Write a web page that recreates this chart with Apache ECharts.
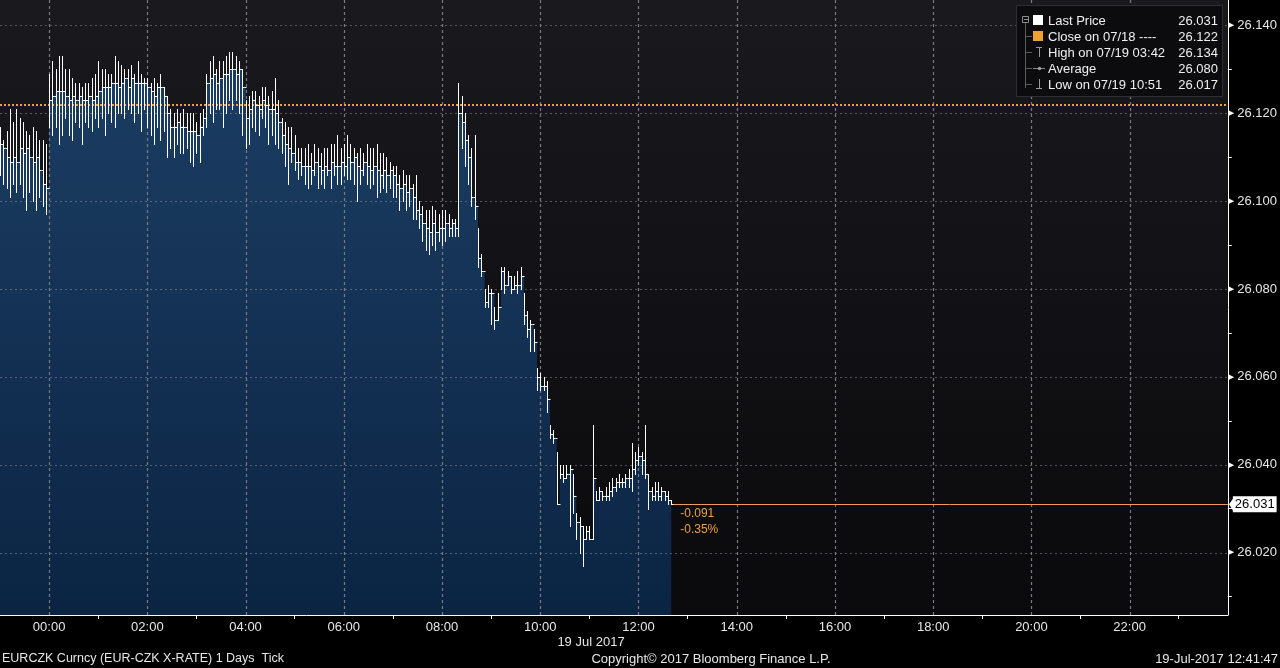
<!DOCTYPE html>
<html><head><meta charset="utf-8">
<script src="https://cdn.jsdelivr.net/npm/echarts@6/dist/echarts.min.js"></script>
<style>html,body{margin:0;padding:0;background:#000;}#c{width:1280px;height:668px;}</style>
</head><body><div id="c"></div>
<script>
// ---- data (EURCZK, 4-minute bars from 23:00 on 18 Jul) ----
const startMinute = -60;
const barMinutes = 4;
const closes = [
26.113,26.112,26.110,26.109,26.110,26.109,26.112,26.111,26.112,26.110,26.109,26.110,26.107,26.104,26.103,
26.123,26.124,26.125,26.125,26.125,26.124,26.123,26.124,26.123,26.124,26.123,26.123,26.124,26.123,26.124,
26.125,26.126,26.126,26.126,26.127,26.127,26.126,26.127,26.128,26.126,26.128,26.127,26.127,26.127,26.127,
26.126,26.125,26.124,26.126,26.126,26.124,26.120,26.117,26.117,26.118,26.117,26.117,26.116,26.116,26.116,
26.115,26.117,26.119,26.127,26.128,26.129,26.127,26.128,26.129,26.129,26.130,26.130,26.129,26.130,26.126,
26.119,26.121,26.123,26.122,26.121,26.123,26.122,26.121,26.121,26.120,26.118,26.115,26.113,26.112,26.111,
26.109,26.109,26.108,26.108,26.108,26.107,26.109,26.108,26.107,26.108,26.107,26.109,26.108,26.108,26.109,
26.108,26.110,26.109,26.110,26.108,26.107,26.109,26.108,26.107,26.108,26.107,26.106,26.107,26.106,26.107,
26.106,26.104,26.103,26.104,26.102,26.103,26.101,26.098,26.097,26.095,26.094,26.093,26.095,26.093,26.094,
26.094,26.095,26.094,26.095,26.094,26.120,26.118,26.114,26.110,26.101,26.099,
26.087,26.084,26.077,26.079,26.079,26.073,26.076,26.084,26.081,26.083,26.080,26.081,26.081,26.083,26.074,
26.071,26.072,26.068,26.060,26.058,26.058,26.055,26.047,26.046,26.031,26.038,26.037,26.038,26.039,26.033,
26.027,26.026,26.023,26.025,26.023,26.037,26.032,26.034,26.033,26.033,26.034,26.035,26.036,26.036,26.036,
26.037,26.037,26.039,26.041,26.042,26.041,26.038,26.034,26.033,26.034,26.033,26.034,26.033,26.032,26.031
];
const highs = [
26.117,26.114,26.116,26.121,26.118,26.121,26.119,26.118,26.116,26.115,26.117,26.116,26.114,26.114,26.113,
26.129,26.132,26.130,26.133,26.133,26.130,26.130,26.128,26.127,26.127,26.126,26.127,26.127,26.128,26.129,
26.132,26.130,26.130,26.129,26.129,26.133,26.132,26.131,26.130,26.130,26.131,26.129,26.132,26.129,26.128,
26.128,26.127,26.128,26.127,26.129,26.126,26.124,26.121,26.120,26.121,26.120,26.121,26.120,26.120,26.120,
26.118,26.120,26.121,26.129,26.132,26.133,26.130,26.132,26.132,26.133,26.134,26.134,26.133,26.132,26.130,
26.123,26.124,26.125,26.125,26.124,26.126,26.126,26.124,26.125,26.128,26.123,26.119,26.118,26.117,26.117,
26.115,26.112,26.112,26.112,26.113,26.111,26.113,26.112,26.111,26.112,26.112,26.113,26.113,26.115,26.112,
26.113,26.115,26.113,26.112,26.111,26.112,26.111,26.113,26.112,26.112,26.113,26.111,26.111,26.110,26.109,
26.108,26.108,26.106,26.107,26.106,26.106,26.104,26.106,26.100,26.099,26.098,26.098,26.099,26.098,26.097,
26.098,26.098,26.097,26.096,26.096,26.127,26.124,26.120,26.115,26.112,26.115,
26.094,26.088,26.080,26.081,26.080,26.076,26.079,26.085,26.085,26.084,26.083,26.083,26.084,26.085,26.079,
26.075,26.073,26.071,26.062,26.061,26.060,26.059,26.049,26.048,26.043,26.040,26.040,26.040,26.040,26.038,
26.029,26.028,26.026,26.026,26.026,26.049,26.034,26.035,26.034,26.035,26.036,26.037,26.037,26.038,26.037,
26.038,26.039,26.045,26.043,26.044,26.043,26.049,26.038,26.035,26.036,26.036,26.035,26.034,26.034,26.032
];
const lows = [
26.106,26.104,26.103,26.101,26.104,26.102,26.104,26.101,26.098,26.102,26.100,26.098,26.101,26.099,26.097,
26.117,26.115,26.117,26.113,26.115,26.119,26.115,26.114,26.118,26.117,26.113,26.118,26.117,26.116,26.119,
26.117,26.119,26.115,26.120,26.118,26.117,26.120,26.120,26.119,26.121,26.120,26.118,26.120,26.116,26.121,
26.117,26.115,26.113,26.117,26.114,26.116,26.110,26.112,26.110,26.113,26.111,26.111,26.112,26.109,26.108,
26.111,26.109,26.115,26.117,26.120,26.118,26.121,26.121,26.117,26.120,26.123,26.121,26.123,26.120,26.115,
26.112,26.113,26.117,26.116,26.115,26.119,26.117,26.113,26.115,26.113,26.112,26.111,26.108,26.104,26.109,
26.107,26.105,26.106,26.104,26.103,26.104,26.106,26.103,26.104,26.103,26.106,26.103,26.106,26.104,26.104,
26.106,26.105,26.105,26.104,26.100,26.104,26.106,26.104,26.103,26.104,26.101,26.102,26.103,26.102,26.103,
26.101,26.101,26.098,26.100,26.098,26.099,26.096,26.096,26.094,26.091,26.089,26.088,26.090,26.089,26.091,
26.090,26.091,26.092,26.092,26.092,26.092,26.112,26.108,26.104,26.099,26.096,
26.085,26.083,26.076,26.076,26.072,26.071,26.073,26.080,26.079,26.081,26.079,26.080,26.079,26.080,26.072,
26.069,26.066,26.066,26.057,26.057,26.057,26.052,26.046,26.045,26.031,26.037,26.036,26.037,26.026,26.029,
26.023,26.020,26.017,26.023,26.023,26.023,26.032,26.032,26.032,26.032,26.032,26.033,26.034,26.035,26.035,
26.035,26.035,26.034,26.038,26.040,26.038,26.037,26.030,26.032,26.032,26.032,26.032,26.032,26.031,26.031
];
const prevClose = 26.122;
const lastPrice = 26.031;
const yMin = 26.0058, yMax = 26.1458;
const yTicks = [26.02, 26.04, 26.06, 26.08, 26.10, 26.12, 26.14];
const yMinorTicks = [26.01, 26.03, 26.05, 26.07, 26.09, 26.11, 26.13];
const xMin = -60, xMax = 1440;
const xLabelMinutes = [0,120,240,360,480,600,720,840,960,1080,1200,1320];
const xMinorMinutes = [60,180,300,420,540,660,780,900,1020,1140,1260,1380];
const legendNames = ['Last Price','Close on 07/18 ----','High on 07/19 03:42','Average','Low on 07/19 10:51'];
const legendValues = ['26.031','26.122','26.134','26.080','26.017'];
const dateLabel = '19 Jul 2017';
const footLeft = 'EURCZK Curncy (EUR-CZK X-RATE) 1 Days  Tick';
const footMid = 'Copyright\u00A9 2017 Bloomberg Finance L.P.';
const footRight = '19-Jul-2017 12:41:47';

// ---- chart ----
const FONT = '"Liberation Sans", Arial, sans-serif';
const times = closes.map((_, i) => startMinute + i * barMinutes);
const lastT = times[times.length - 1];
const hhmm = v => { const h = Math.floor(v / 60), m = v % 60; return String(h).padStart(2,'0') + ':' + String(m).padStart(2,'0'); };
const gridStroke = { stroke: 'rgba(165,165,175,0.45)', lineWidth: 1, lineDash: [2, 3] };

const chart = echarts.init(document.getElementById('c'), null, { renderer: 'canvas', width: 1280, height: 668 });
const option = {
  backgroundColor: '#000',
  animation: false,
  grid: { left: 0, right: 52, top: 0, bottom: 53, show: true, borderWidth: 0,
    backgroundColor: { type: 'linear', x: 0, y: 0, x2: 0, y2: 1,
      colorStops: [{ offset: 0, color: '#19191e' }, { offset: 1, color: '#0a0a0c' }] } },
  xAxis: [{
    type: 'value', min: xMin, max: xMax, z: 3,
    axisLine: { show: true, onZero: false, lineStyle: { color: '#ffffff', width: 1 } },
    axisTick: { show: false, customValues: xLabelMinutes },
    axisLabel: { customValues: xLabelMinutes, formatter: hhmm, color: '#e6e6e6', fontSize: 13, fontFamily: FONT, margin: 6 },
    splitLine: { show: false }
  }, {
    type: 'value', min: xMin, max: xMax, position: 'bottom', z: 3,
    axisLine: { show: false, onZero: false },
    axisTick: { show: true, customValues: xMinorMinutes, length: 4, lineStyle: { color: '#ffffff' } },
    axisLabel: { show: false }, splitLine: { show: false }
  }],
  yAxis: [{
    type: 'value', position: 'right', min: yMin, max: yMax, z: 3,
    axisLine: { show: true, onZero: false, lineStyle: { color: '#ffffff', width: 1 } },
    axisTick: { show: false, customValues: yTicks },
    axisLabel: { customValues: yTicks, margin: 1, fontFamily: FONT,
      formatter: v => '{a|\u25B6}{b|' + v.toFixed(3) + '}',
      rich: { a: { fontSize: 7, color: '#ffffff', padding: [0, 3, 0, 0], fontFamily: '"DejaVu Sans"' },
              b: { fontSize: 13, color: '#e6e6e6', fontFamily: FONT } } },
    splitLine: { show: false }
  }, {
    type: 'value', position: 'right', min: yMin, max: yMax, z: 3,
    axisLine: { show: false, onZero: false },
    axisTick: { show: true, customValues: yMinorTicks, length: 4, lineStyle: { color: '#ffffff' } },
    axisLabel: { show: false }, splitLine: { show: false }
  }],
  series: [{
    type: 'line', xAxisIndex: 0, yAxisIndex: 0, z: 1, silent: true,
    data: times.map((t, i) => [t, closes[i]]),
    step: 'end', symbol: 'none', lineStyle: { width: 0 },
    areaStyle: { origin: 'start', opacity: 1, color: { type: 'linear', x: 0, y: 0, x2: 0, y2: 1,
      colorStops: [{ offset: 0, color: '#1b3d63' }, { offset: 1, color: '#0b2443' }] } },
    markLine: { symbol: 'none', silent: true, animation: false, data: [
      [{ coord: [xMin, prevClose], lineStyle: { color: '#e9a235', type: [2, 2], width: 2 }, label: { show: false } },
       { coord: [xMax, prevClose] }],
      [{ coord: [lastT, lastPrice], lineStyle: { color: '#f29a62', type: 'solid', width: 1 },
         label: { show: true, position: 'end', distance: 5, formatter: lastPrice.toFixed(3), color: '#000',
                  backgroundColor: '#ffffff', padding: [2, 2, 1, 2], fontSize: 13, fontFamily: FONT } },
       { coord: [xMax, lastPrice] }]
    ] }
  }, {
    // horizontal dashed grid lines at the labelled prices
    type: 'custom', xAxisIndex: 0, yAxisIndex: 0, z: 2, silent: true,
    data: yTicks.map(v => [xMin, v]),
    encode: { x: 0, y: 1 },
    renderItem: (params, api) => {
      const cs = params.coordSys;
      const y = Math.round(api.coord([xMin, api.value(1)])[1]) + 0.5;
      return { type: 'line', shape: { x1: cs.x, y1: y, x2: cs.x + cs.width, y2: y }, style: gridStroke };
    }
  }, {
    // vertical dashed grid lines every two hours
    type: 'custom', xAxisIndex: 0, yAxisIndex: 0, z: 3, silent: true,
    data: xLabelMinutes.map(v => [v, yMax]),
    encode: { x: 0, y: 1 },
    renderItem: (params, api) => {
      const cs = params.coordSys;
      const x = Math.round(api.coord([api.value(0), yMax])[0]) + 0.5;
      return { type: 'line', shape: { x1: x, y1: cs.y, x2: x, y2: cs.y + cs.height },
               style: { stroke: '#7a7a84', lineWidth: 1.2, lineDash: [3, 3] } };
    }
  }, {
    type: 'custom', xAxisIndex: 0, yAxisIndex: 0, z: 5, silent: true,
    data: times.map((t, i) => [t, highs[i], lows[i], closes[i]]),
    encode: { x: 0, y: [1, 2, 3] },
    renderItem: (params, api) => {
      const i = params.dataIndex;
      const t = api.value(0);
      const pH = api.coord([t, api.value(1)]);
      const pL = api.coord([t, api.value(2)]);
      const pC = api.coord([t, api.value(3)]);
      const pO = api.coord([t, i > 0 ? closes[i - 1] : api.value(3)]);
      const x = Math.round(pH[0]) + 0.5;
      const st = { stroke: '#ffffff', lineWidth: 1 };
      const yc = Math.round(pC[1]) + 0.5, yo = Math.round(pO[1]) + 0.5;
      return { type: 'group', children: [
        { type: 'line', shape: { x1: x, y1: Math.round(pH[1]), x2: x, y2: Math.round(pL[1]) + 1 }, style: st },
        { type: 'line', shape: { x1: x - 2, y1: yo, x2: x, y2: yo }, style: st },
        { type: 'line', shape: { x1: x, y1: yc, x2: x + 2, y2: yc }, style: st }
      ] };
    }
  }]
};
chart.setOption(option);

// ---- overlay: texts, legend ----
const pLast = chart.convertToPixel({ gridIndex: 0 }, [lastT, lastPrice]);
const chg = lastPrice - prevClose;
const pct = chg / prevClose * 100;
const txt = (text, x, y, align, color, size) => ({
  type: 'text', x: x, y: y, z: 100, silent: true,
  style: { text: text, fill: color, font: (size || 13) + 'px ' + FONT, align: align, textAlign: align,
           verticalAlign: 'middle', textVerticalAlign: 'middle' } });
const ln = (x1, y1, x2, y2, c) => ({ type: 'line', z: 100, silent: true, shape: { x1, y1, x2, y2 }, style: { stroke: c, lineWidth: 1 } });

const g = [];
// legend box
g.push({ type: 'rect', z: 99, silent: true, shape: { x: 1016.5, y: 5.5, width: 206, height: 91 }, style: { fill: '#0c0c0e', stroke: '#2f2f33', lineWidth: 1 } });
g.push({ type: 'rect', z: 100, silent: true, shape: { x: 1022.5, y: 16.5, width: 6, height: 6 }, style: { fill: 'none', stroke: '#8c8c8c', lineWidth: 1 } });
g.push(ln(1024, 19.5, 1028, 19.5, '#8c8c8c'));
g.push(ln(1025.5, 23, 1025.5, 88, '#5c5c5c'));
const rows = [20, 36, 52, 68, 84];
rows.slice(1).forEach(y => g.push(ln(1025.5, y + 0.5, 1032, y + 0.5, '#5c5c5c')));
g.push({ type: 'rect', z: 100, silent: true, shape: { x: 1033, y: 15, width: 10, height: 10 }, style: { fill: '#ffffff' } });
g.push({ type: 'rect', z: 100, silent: true, shape: { x: 1033, y: 31, width: 10, height: 10 }, style: { fill: '#f0a030' } });
g.push(ln(1036, 47.5, 1042, 47.5, '#9a9a9a')); g.push(ln(1039.5, 47, 1039.5, 57, '#9a9a9a'));
g.push(ln(1033, 68.5, 1045, 68.5, '#8a8a8a'));
g.push({ type: 'circle', z: 100, silent: true, shape: { cx: 1039.5, cy: 68.5, r: 1.8 }, style: { fill: '#9a9a9a' } });
g.push(ln(1039.5, 79, 1039.5, 89, '#9a9a9a')); g.push(ln(1036, 88.5, 1042, 88.5, '#9a9a9a'));
legendNames.forEach((n, i) => {
  g.push(txt(n, 1048, rows[i] + 1, 'left', '#f0f0f0'));
  g.push(txt(legendValues[i], 1218, rows[i] + 1, 'right', '#f0f0f0'));
});
// price change near the last bar
g.push(txt((chg < 0 ? '-' : '+') + Math.abs(chg).toFixed(3), pLast[0] + 9, pLast[1] + 9, 'left', '#f0a040', 12));
g.push(txt((pct < 0 ? '-' : '+') + Math.abs(pct).toFixed(2) + '%', pLast[0] + 9, pLast[1] + 25, 'left', '#f0a040', 12));
// pointer of last price tag
g.push({ type: 'polygon', z: 100, silent: true, shape: { points: [[1229, pLast[1]], [1234, pLast[1] - 7], [1234, pLast[1] + 8]] }, style: { fill: '#ffffff' } });
// date + footer
g.push(txt(dateLabel, 591, 642, 'center', '#e6e6e6'));
g.push(txt(footLeft, 2, 659, 'left', '#e6e6e6', 12.5));
g.push(txt(footMid, 711, 659, 'center', '#e6e6e6'));
g.push(txt(footRight, 1278, 659, 'right', '#e6e6e6'));
chart.setOption({ graphic: g });
</script></body></html>
